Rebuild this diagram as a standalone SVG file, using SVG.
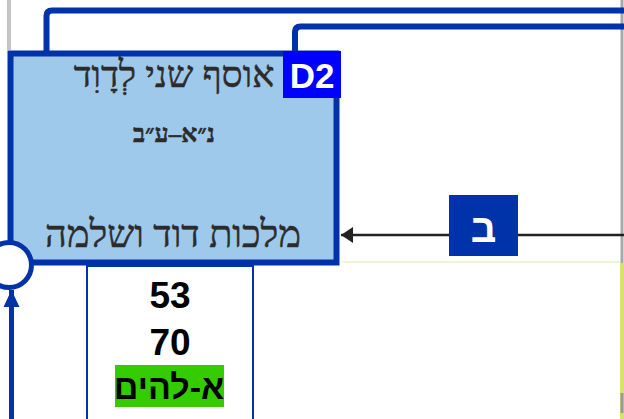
<svg xmlns="http://www.w3.org/2000/svg" width="624" height="419" viewBox="0 0 624 419">
<style>
.blue{fill:none;stroke:#0033aa;stroke-width:6;stroke-linejoin:round}
.heb{font-family:"Liberation Serif","DejaVu Sans",serif;fill:#2b2b2b;stroke:#2b2b2b;stroke-width:0.5;text-anchor:middle}
.num{font-family:"Liberation Sans",Arial,sans-serif;font-weight:bold;fill:#000;text-anchor:middle}
</style>
<defs>
<marker id="arrL" markerWidth="12" markerHeight="18" refX="12" refY="9" orient="auto" markerUnits="userSpaceOnUse">
<path d="M0,1 L12,9 L0,17 Z" fill="#222"/>
</marker>
<marker id="arrU" markerWidth="18" markerHeight="18" refX="17" refY="9" orient="auto" markerUnits="userSpaceOnUse">
<path d="M0,1 L17,9 L0,17 Z" fill="#0033aa"/>
</marker>
</defs>
<rect width="624" height="419" fill="#fff"/>
<g id="frame">
<line x1="9" y1="0" x2="9" y2="50" stroke="#c4c4c4" stroke-width="4"/>
<line x1="622" y1="0" x2="622" y2="263" stroke="#a8a8a8" stroke-width="3"/>
<line x1="622" y1="263" x2="622" y2="419" stroke="#d9e06e" stroke-width="4"/>
<line x1="622" y1="393" x2="622" y2="413" stroke="#9a9a9a" stroke-width="3"/>
<line x1="342" y1="262" x2="620" y2="262" stroke="#e6f2c8" stroke-width="1.5"/>
</g>
<g id="connectors">
<path class="blue" d="M46.5,54 V16 Q46.5,10.5 52,10.5 H624"/>
<path class="blue" d="M295,54 V32 Q295,26.5 300.5,26.5 H624"/>
<line x1="624" y1="235" x2="341" y2="235" stroke="#222" stroke-width="2.5" marker-end="url(#arrL)"/>
<line x1="11.5" y1="419" x2="11.5" y2="290" stroke="#0033aa" stroke-width="5" marker-end="url(#arrU)"/>
</g>
<g id="node-D2">
<rect x="10.5" y="53.5" width="326" height="209" fill="#9fc9eb" stroke="#0033aa" stroke-width="6"/>
<rect x="283" y="51" width="58" height="47" fill="#0000ff"/>
<text x="312" y="88" font-family="Liberation Sans,Arial,sans-serif" font-weight="bold" font-size="35" fill="#fff" text-anchor="middle">D2</text>
<text class="heb" x="174" y="87" font-size="37">אוסף שני לְדָוִד</text>
<text class="heb" x="174" y="142" font-size="25" font-weight="bold">נ״א–ע״ב</text>
<text class="heb" x="173" y="247" font-size="38">מלכות דוד ושלמה</text>
</g>
<g id="node-circle">
<circle cx="9" cy="265" r="22.5" fill="#fff" stroke="#0033aa" stroke-width="5"/>
</g>
<g id="node-info">
<rect x="87" y="266" width="166" height="156" fill="#fff" stroke="#0033aa" stroke-width="2"/>
<text class="num" x="170" y="308" font-size="37">53</text>
<text class="num" x="170" y="355" font-size="37">70</text>
<rect x="115" y="365" width="109" height="42" fill="#33cc00"/>
<text class="num" x="169" y="399" font-size="34">א-להים</text>
</g>
<g id="label-bet">
<rect x="449" y="195" width="69" height="61" fill="#0033aa"/>
<text x="483.5" y="242" font-family="Liberation Sans,Arial,sans-serif" font-weight="bold" font-size="40" fill="#fff" text-anchor="middle">ב</text>
</g>
</svg>
